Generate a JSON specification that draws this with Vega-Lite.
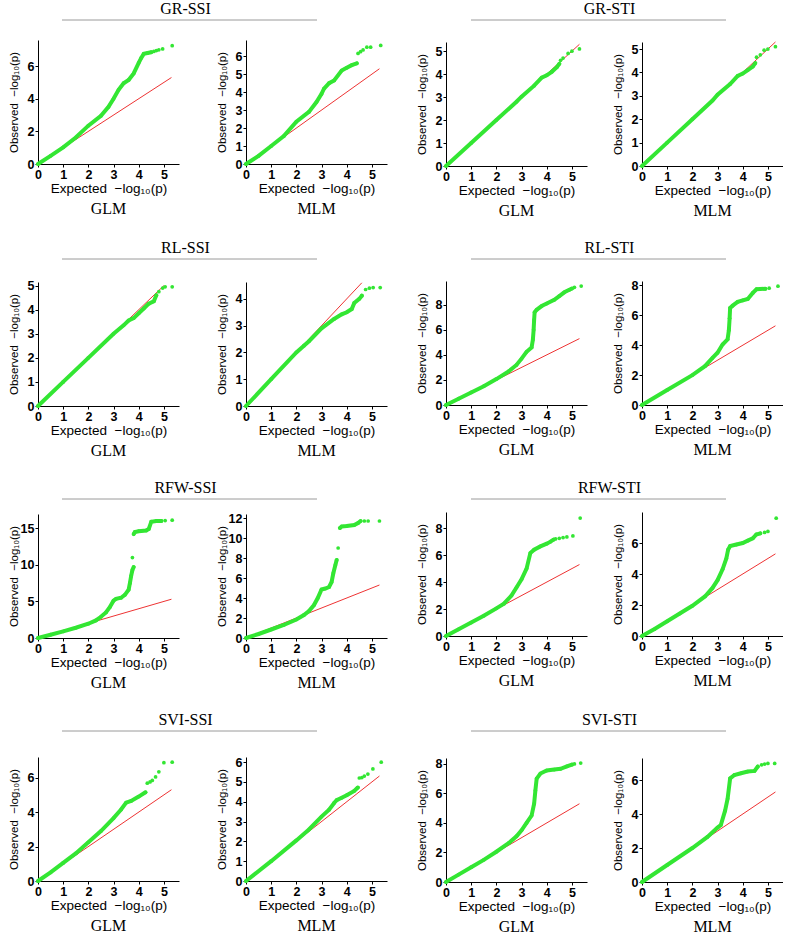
{
"$schema":"https://vega.github.io/schema/vega-lite/v6.json",
"padding":{"left":8,"top":1,"right":0,"bottom":0},
"config":{
 "view":{"stroke":null},
 "font":"Liberation Sans",
 "axis":{"domainColor":"#000","tickColor":"#000","grid":false,"labelFont":"Liberation Sans","labelFontWeight":"bold","labelFontSize":12.5,"labelColor":"#000","titleFont":"Liberation Sans","titleFontWeight":"normal","titleColor":"#000","tickSize":3,"labelPadding":1,"domainWidth":1,"labelFlush":false,"labelBound":false,"labelOverlap":false},
 "axisX":{"titleFontSize":13.5,"titlePadding":1},
 "axisY":{"titleFontSize":11.5,"minExtent":18,"maxExtent":18,"titlePadding":1},
 "title":{"font":"Liberation Serif","fontSize":16,"fontWeight":"normal","color":"#000"}
},
"datasets":{"qq":[
{"p":"A1","s":-1,"x":0,"y":0},{"p":"A1","s":-1,"x":5.3,"y":5.3},
{"p":"A1","s":0,"x":0,"y":0},{"p":"A1","s":0,"x":0.5,"y":0.5},{"p":"A1","s":0,"x":1,"y":1.02},{"p":"A1","s":0,"x":1.5,"y":1.62},{"p":"A1","s":0,"x":2,"y":2.35},{"p":"A1","s":0,"x":2.5,"y":2.95},{"p":"A1","s":0,"x":2.8,"y":3.5},{"p":"A1","s":0,"x":3,"y":4.0},{"p":"A1","s":0,"x":3.2,"y":4.55},{"p":"A1","s":0,"x":3.4,"y":4.95},{"p":"A1","s":0,"x":3.6,"y":5.15},{"p":"A1","s":0,"x":3.8,"y":5.55},{"p":"A1","s":0,"x":4.0,"y":6.2},{"p":"A1","s":0,"x":4.1,"y":6.5},{"p":"A1","s":0,"x":4.2,"y":6.75},{"p":"A1","s":0,"x":4.35,"y":6.8},{"p":"A1","s":0,"x":4.5,"y":6.85},
{"p":"A1","s":9,"x":4.6,"y":6.9},{"p":"A1","s":9,"x":4.7,"y":6.95},{"p":"A1","s":9,"x":4.8,"y":7.0},{"p":"A1","s":9,"x":4.95,"y":7.05},{"p":"A1","s":9,"x":5.33,"y":7.25},
{"p":"A2","s":-1,"x":0,"y":0},{"p":"A2","s":-1,"x":5.3,"y":5.3},
{"p":"A2","s":0,"x":0,"y":0},{"p":"A2","s":0,"x":0.5,"y":0.45},{"p":"A2","s":0,"x":1,"y":1.0},{"p":"A2","s":0,"x":1.5,"y":1.55},{"p":"A2","s":0,"x":2,"y":2.35},{"p":"A2","s":0,"x":2.5,"y":2.9},{"p":"A2","s":0,"x":2.8,"y":3.45},{"p":"A2","s":0,"x":3,"y":3.9},{"p":"A2","s":0,"x":3.1,"y":4.2},{"p":"A2","s":0,"x":3.3,"y":4.5},{"p":"A2","s":0,"x":3.5,"y":4.65},{"p":"A2","s":0,"x":3.8,"y":5.2},{"p":"A2","s":0,"x":4.0,"y":5.35},{"p":"A2","s":0,"x":4.2,"y":5.5},{"p":"A2","s":0,"x":4.4,"y":5.6},
{"p":"A2","s":9,"x":4.45,"y":6.15},{"p":"A2","s":9,"x":4.55,"y":6.25},{"p":"A2","s":9,"x":4.65,"y":6.35},{"p":"A2","s":9,"x":4.8,"y":6.5},{"p":"A2","s":9,"x":4.95,"y":6.5},{"p":"A2","s":9,"x":5.35,"y":6.6},
{"p":"B1","s":-1,"x":0,"y":0},{"p":"B1","s":-1,"x":5.3,"y":5.3},
{"p":"B1","s":0,"x":0,"y":0},{"p":"B1","s":0,"x":1,"y":1.0},{"p":"B1","s":0,"x":2,"y":2.0},{"p":"B1","s":0,"x":2.8,"y":2.8},{"p":"B1","s":0,"x":3.0,"y":3.02},{"p":"B1","s":0,"x":3.5,"y":3.5},{"p":"B1","s":0,"x":3.8,"y":3.85},{"p":"B1","s":0,"x":4.0,"y":3.95},{"p":"B1","s":0,"x":4.2,"y":4.1},{"p":"B1","s":0,"x":4.4,"y":4.3},{"p":"B1","s":0,"x":4.5,"y":4.45},
{"p":"B1","s":9,"x":4.55,"y":4.6},{"p":"B1","s":9,"x":4.65,"y":4.7},{"p":"B1","s":9,"x":4.85,"y":4.9},{"p":"B1","s":9,"x":5.0,"y":5.0},{"p":"B1","s":9,"x":5.3,"y":5.1},
{"p":"B2","s":-1,"x":0,"y":0},{"p":"B2","s":-1,"x":5.3,"y":5.3},
{"p":"B2","s":0,"x":0,"y":0},{"p":"B2","s":0,"x":1,"y":1.0},{"p":"B2","s":0,"x":2,"y":2.0},{"p":"B2","s":0,"x":2.8,"y":2.8},{"p":"B2","s":0,"x":3.0,"y":3.05},{"p":"B2","s":0,"x":3.5,"y":3.5},{"p":"B2","s":0,"x":3.8,"y":3.85},{"p":"B2","s":0,"x":4.0,"y":3.95},{"p":"B2","s":0,"x":4.2,"y":4.1},{"p":"B2","s":0,"x":4.4,"y":4.25},{"p":"B2","s":0,"x":4.5,"y":4.4},
{"p":"B2","s":9,"x":4.55,"y":4.65},{"p":"B2","s":9,"x":4.7,"y":4.75},{"p":"B2","s":9,"x":4.85,"y":4.95},{"p":"B2","s":9,"x":5.0,"y":5.0},{"p":"B2","s":9,"x":5.3,"y":5.1},
{"p":"C1","s":-1,"x":0,"y":0},{"p":"C1","s":-1,"x":5.0,"y":5.0},
{"p":"C1","s":0,"x":0,"y":0},{"p":"C1","s":0,"x":1,"y":1.0},{"p":"C1","s":0,"x":2,"y":2.0},{"p":"C1","s":0,"x":3,"y":3.0},{"p":"C1","s":0,"x":3.4,"y":3.35},{"p":"C1","s":0,"x":3.6,"y":3.55},{"p":"C1","s":0,"x":3.8,"y":3.65},{"p":"C1","s":0,"x":4.0,"y":3.85},{"p":"C1","s":0,"x":4.2,"y":4.05},{"p":"C1","s":0,"x":4.4,"y":4.25},{"p":"C1","s":0,"x":4.6,"y":4.35},{"p":"C1","s":0,"x":4.7,"y":4.6},
{"p":"C1","s":9,"x":4.8,"y":4.75},{"p":"C1","s":9,"x":4.95,"y":4.9},{"p":"C1","s":9,"x":5.05,"y":4.95},{"p":"C1","s":9,"x":5.33,"y":4.95},
{"p":"C2","s":-1,"x":0,"y":0},{"p":"C2","s":-1,"x":4.6,"y":4.6},
{"p":"C2","s":0,"x":0,"y":0},{"p":"C2","s":0,"x":1,"y":1.0},{"p":"C2","s":0,"x":2,"y":2.0},{"p":"C2","s":0,"x":2.3,"y":2.25},{"p":"C2","s":0,"x":2.5,"y":2.42},{"p":"C2","s":0,"x":3,"y":2.9},{"p":"C2","s":0,"x":3.5,"y":3.25},{"p":"C2","s":0,"x":3.8,"y":3.42},{"p":"C2","s":0,"x":4.0,"y":3.5},{"p":"C2","s":0,"x":4.2,"y":3.62},{"p":"C2","s":0,"x":4.3,"y":3.85},{"p":"C2","s":0,"x":4.5,"y":4.0},{"p":"C2","s":0,"x":4.6,"y":4.12},
{"p":"C2","s":9,"x":4.75,"y":4.35},{"p":"C2","s":9,"x":4.9,"y":4.4},{"p":"C2","s":9,"x":5.05,"y":4.42},{"p":"C2","s":9,"x":5.33,"y":4.42},
{"p":"D1","s":-1,"x":0,"y":0},{"p":"D1","s":-1,"x":5.3,"y":5.3},
{"p":"D1","s":0,"x":0,"y":0},{"p":"D1","s":0,"x":0.5,"y":0.5},{"p":"D1","s":0,"x":1,"y":1.0},{"p":"D1","s":0,"x":1.5,"y":1.5},{"p":"D1","s":0,"x":2,"y":2.07},{"p":"D1","s":0,"x":2.5,"y":2.7},{"p":"D1","s":0,"x":2.8,"y":3.2},{"p":"D1","s":0,"x":3,"y":3.7},{"p":"D1","s":0,"x":3.2,"y":4.25},{"p":"D1","s":0,"x":3.4,"y":4.6},{"p":"D1","s":0,"x":3.45,"y":5.2},{"p":"D1","s":0,"x":3.48,"y":6.0},{"p":"D1","s":0,"x":3.5,"y":6.8},{"p":"D1","s":0,"x":3.52,"y":7.4},{"p":"D1","s":0,"x":3.6,"y":7.6},{"p":"D1","s":0,"x":3.8,"y":7.9},{"p":"D1","s":0,"x":4.0,"y":8.1},{"p":"D1","s":0,"x":4.3,"y":8.4},{"p":"D1","s":0,"x":4.5,"y":8.7},{"p":"D1","s":0,"x":4.7,"y":9.0},{"p":"D1","s":0,"x":4.9,"y":9.2},{"p":"D1","s":0,"x":5.0,"y":9.3},
{"p":"D1","s":9,"x":5.1,"y":9.4},{"p":"D1","s":9,"x":5.37,"y":9.5},
{"p":"D2","s":-1,"x":0,"y":0},{"p":"D2","s":-1,"x":5.3,"y":5.3},
{"p":"D2","s":0,"x":0,"y":0},{"p":"D2","s":0,"x":1,"y":1.0},{"p":"D2","s":0,"x":2,"y":2.0},{"p":"D2","s":0,"x":2.5,"y":2.6},{"p":"D2","s":0,"x":2.8,"y":3.15},{"p":"D2","s":0,"x":3,"y":3.5},{"p":"D2","s":0,"x":3.2,"y":4.05},{"p":"D2","s":0,"x":3.4,"y":4.4},{"p":"D2","s":0,"x":3.45,"y":5.0},{"p":"D2","s":0,"x":3.48,"y":5.8},{"p":"D2","s":0,"x":3.5,"y":6.5},{"p":"D2","s":0,"x":3.6,"y":6.65},{"p":"D2","s":0,"x":3.8,"y":6.9},{"p":"D2","s":0,"x":4.0,"y":7.0},{"p":"D2","s":0,"x":4.2,"y":7.1},{"p":"D2","s":0,"x":4.4,"y":7.5},{"p":"D2","s":0,"x":4.55,"y":7.75},{"p":"D2","s":0,"x":4.9,"y":7.78},
{"p":"D2","s":9,"x":5.05,"y":7.82},{"p":"D2","s":9,"x":5.4,"y":7.95},
{"p":"E1","s":-1,"x":0,"y":0},{"p":"E1","s":-1,"x":5.3,"y":5.3},
{"p":"E1","s":0,"x":0,"y":0},{"p":"E1","s":0,"x":0.5,"y":0.45},{"p":"E1","s":0,"x":1,"y":0.9},{"p":"E1","s":0,"x":1.5,"y":1.4},{"p":"E1","s":0,"x":2,"y":1.95},{"p":"E1","s":0,"x":2.3,"y":2.4},{"p":"E1","s":0,"x":2.5,"y":2.9},{"p":"E1","s":0,"x":2.7,"y":3.5},{"p":"E1","s":0,"x":2.85,"y":4.2},{"p":"E1","s":0,"x":3.0,"y":5.1},{"p":"E1","s":0,"x":3.1,"y":5.35},{"p":"E1","s":0,"x":3.3,"y":5.5},{"p":"E1","s":0,"x":3.45,"y":5.9},{"p":"E1","s":0,"x":3.6,"y":6.6},{"p":"E1","s":0,"x":3.65,"y":7.5},{"p":"E1","s":0,"x":3.7,"y":8.5},{"p":"E1","s":0,"x":3.75,"y":9.3},{"p":"E1","s":0,"x":3.8,"y":9.7},
{"p":"E1","s":9,"x":3.75,"y":11.0},
{"p":"E1","s":1,"x":3.8,"y":14.2},{"p":"E1","s":1,"x":3.85,"y":14.5},{"p":"E1","s":1,"x":4.0,"y":14.6},{"p":"E1","s":1,"x":4.3,"y":14.7},{"p":"E1","s":1,"x":4.4,"y":14.9},{"p":"E1","s":1,"x":4.5,"y":15.9},{"p":"E1","s":1,"x":4.7,"y":16.0},{"p":"E1","s":1,"x":4.9,"y":16.0},
{"p":"E1","s":9,"x":5.05,"y":16.05},{"p":"E1","s":9,"x":5.33,"y":16.1},
{"p":"E2","s":-1,"x":0,"y":0},{"p":"E2","s":-1,"x":5.3,"y":5.3},
{"p":"E2","s":0,"x":0,"y":0},{"p":"E2","s":0,"x":0.5,"y":0.4},{"p":"E2","s":0,"x":1,"y":0.85},{"p":"E2","s":0,"x":1.5,"y":1.3},{"p":"E2","s":0,"x":2,"y":1.85},{"p":"E2","s":0,"x":2.3,"y":2.3},{"p":"E2","s":0,"x":2.5,"y":2.7},{"p":"E2","s":0,"x":2.7,"y":3.3},{"p":"E2","s":0,"x":2.85,"y":4.0},{"p":"E2","s":0,"x":3.0,"y":4.85},{"p":"E2","s":0,"x":3.15,"y":4.95},{"p":"E2","s":0,"x":3.3,"y":5.1},{"p":"E2","s":0,"x":3.4,"y":5.6},{"p":"E2","s":0,"x":3.47,"y":6.5},{"p":"E2","s":0,"x":3.55,"y":7.3},{"p":"E2","s":0,"x":3.6,"y":7.8},
{"p":"E2","s":9,"x":3.66,"y":9.0},
{"p":"E2","s":1,"x":3.73,"y":11.0},{"p":"E2","s":1,"x":3.8,"y":11.15},{"p":"E2","s":1,"x":4.0,"y":11.2},{"p":"E2","s":1,"x":4.3,"y":11.3},{"p":"E2","s":1,"x":4.45,"y":11.5},{"p":"E2","s":1,"x":4.55,"y":11.7},
{"p":"E2","s":9,"x":4.7,"y":11.7},{"p":"E2","s":9,"x":4.85,"y":11.7},{"p":"E2","s":9,"x":5.3,"y":11.7},
{"p":"F1","s":-1,"x":0,"y":0},{"p":"F1","s":-1,"x":5.3,"y":5.3},
{"p":"F1","s":0,"x":0,"y":0},{"p":"F1","s":0,"x":0.5,"y":0.5},{"p":"F1","s":0,"x":1,"y":1.0},{"p":"F1","s":0,"x":1.5,"y":1.5},{"p":"F1","s":0,"x":2,"y":2.05},{"p":"F1","s":0,"x":2.3,"y":2.4},{"p":"F1","s":0,"x":2.6,"y":3.0},{"p":"F1","s":0,"x":2.8,"y":3.6},{"p":"F1","s":0,"x":3.0,"y":4.2},{"p":"F1","s":0,"x":3.2,"y":5.0},{"p":"F1","s":0,"x":3.35,"y":6.15},{"p":"F1","s":0,"x":3.5,"y":6.4},{"p":"F1","s":0,"x":3.75,"y":6.65},{"p":"F1","s":0,"x":4.0,"y":6.85},{"p":"F1","s":0,"x":4.15,"y":7.0},{"p":"F1","s":0,"x":4.27,"y":7.15},
{"p":"F1","s":9,"x":4.35,"y":7.2},{"p":"F1","s":9,"x":4.5,"y":7.25},{"p":"F1","s":9,"x":4.65,"y":7.3},{"p":"F1","s":9,"x":4.8,"y":7.35},{"p":"F1","s":9,"x":5.04,"y":7.42},{"p":"F1","s":9,"x":5.33,"y":8.75},
{"p":"F2","s":-1,"x":0,"y":0},{"p":"F2","s":-1,"x":5.3,"y":5.3},
{"p":"F2","s":0,"x":0,"y":0},{"p":"F2","s":0,"x":0.5,"y":0.45},{"p":"F2","s":0,"x":1,"y":0.95},{"p":"F2","s":0,"x":1.5,"y":1.45},{"p":"F2","s":0,"x":2,"y":1.95},{"p":"F2","s":0,"x":2.5,"y":2.55},{"p":"F2","s":0,"x":2.8,"y":3.1},{"p":"F2","s":0,"x":3.0,"y":3.6},{"p":"F2","s":0,"x":3.2,"y":4.3},{"p":"F2","s":0,"x":3.35,"y":5.0},{"p":"F2","s":0,"x":3.42,"y":5.57},{"p":"F2","s":0,"x":3.5,"y":5.8},{"p":"F2","s":0,"x":3.75,"y":5.9},{"p":"F2","s":0,"x":4.0,"y":6.0},{"p":"F2","s":0,"x":4.2,"y":6.15},{"p":"F2","s":0,"x":4.4,"y":6.3},{"p":"F2","s":0,"x":4.54,"y":6.55},{"p":"F2","s":0,"x":4.7,"y":6.62},
{"p":"F2","s":9,"x":4.87,"y":6.68},{"p":"F2","s":9,"x":5.0,"y":6.75},{"p":"F2","s":9,"x":5.33,"y":7.6},
{"p":"G1","s":-1,"x":0,"y":0},{"p":"G1","s":-1,"x":5.3,"y":5.3},
{"p":"G1","s":0,"x":0,"y":0},{"p":"G1","s":0,"x":0.5,"y":0.5},{"p":"G1","s":0,"x":1,"y":1.05},{"p":"G1","s":0,"x":1.5,"y":1.6},{"p":"G1","s":0,"x":2,"y":2.25},{"p":"G1","s":0,"x":2.5,"y":2.9},{"p":"G1","s":0,"x":3,"y":3.65},{"p":"G1","s":0,"x":3.3,"y":4.15},{"p":"G1","s":0,"x":3.5,"y":4.55},{"p":"G1","s":0,"x":3.7,"y":4.65},{"p":"G1","s":0,"x":4.0,"y":4.9},{"p":"G1","s":0,"x":4.27,"y":5.15},
{"p":"G1","s":9,"x":4.34,"y":5.68},{"p":"G1","s":9,"x":4.45,"y":5.75},{"p":"G1","s":9,"x":4.54,"y":5.84},{"p":"G1","s":9,"x":4.67,"y":6.04},{"p":"G1","s":9,"x":4.8,"y":6.34},{"p":"G1","s":9,"x":5.0,"y":6.87},{"p":"G1","s":9,"x":5.33,"y":6.9},
{"p":"G2","s":-1,"x":0,"y":0},{"p":"G2","s":-1,"x":5.3,"y":5.3},
{"p":"G2","s":0,"x":0,"y":0},{"p":"G2","s":0,"x":1,"y":1.0},{"p":"G2","s":0,"x":2,"y":2.05},{"p":"G2","s":0,"x":2.5,"y":2.6},{"p":"G2","s":0,"x":3,"y":3.25},{"p":"G2","s":0,"x":3.3,"y":3.6},{"p":"G2","s":0,"x":3.5,"y":3.94},{"p":"G2","s":0,"x":3.6,"y":4.08},{"p":"G2","s":0,"x":3.8,"y":4.2},{"p":"G2","s":0,"x":4.0,"y":4.33},{"p":"G2","s":0,"x":4.3,"y":4.55},{"p":"G2","s":0,"x":4.44,"y":4.72},
{"p":"G2","s":9,"x":4.5,"y":5.2},{"p":"G2","s":9,"x":4.6,"y":5.22},{"p":"G2","s":9,"x":4.7,"y":5.3},{"p":"G2","s":9,"x":4.84,"y":5.4},{"p":"G2","s":9,"x":5.04,"y":5.66},{"p":"G2","s":9,"x":5.37,"y":6.0},
{"p":"H1","s":-1,"x":0,"y":0},{"p":"H1","s":-1,"x":5.3,"y":5.3},
{"p":"H1","s":0,"x":0,"y":0},{"p":"H1","s":0,"x":0.5,"y":0.5},{"p":"H1","s":0,"x":1,"y":1.0},{"p":"H1","s":0,"x":1.5,"y":1.5},{"p":"H1","s":0,"x":2,"y":2.05},{"p":"H1","s":0,"x":2.5,"y":2.65},{"p":"H1","s":0,"x":2.8,"y":3.1},{"p":"H1","s":0,"x":3.0,"y":3.5},{"p":"H1","s":0,"x":3.2,"y":4.0},{"p":"H1","s":0,"x":3.4,"y":4.5},{"p":"H1","s":0,"x":3.5,"y":5.3},{"p":"H1","s":0,"x":3.55,"y":6.2},{"p":"H1","s":0,"x":3.6,"y":7.0},{"p":"H1","s":0,"x":3.75,"y":7.35},{"p":"H1","s":0,"x":4.0,"y":7.55},{"p":"H1","s":0,"x":4.3,"y":7.62},{"p":"H1","s":0,"x":4.55,"y":7.67},{"p":"H1","s":0,"x":4.8,"y":7.83},{"p":"H1","s":0,"x":5.0,"y":7.95},
{"p":"H1","s":9,"x":5.1,"y":8.0},{"p":"H1","s":9,"x":5.35,"y":8.06},
{"p":"H2","s":-1,"x":0,"y":0},{"p":"H2","s":-1,"x":5.3,"y":5.3},
{"p":"H2","s":0,"x":0,"y":0},{"p":"H2","s":0,"x":1,"y":1.0},{"p":"H2","s":0,"x":2,"y":2.0},{"p":"H2","s":0,"x":2.6,"y":2.65},{"p":"H2","s":0,"x":3.0,"y":3.2},{"p":"H2","s":0,"x":3.13,"y":3.35},{"p":"H2","s":0,"x":3.3,"y":4.2},{"p":"H2","s":0,"x":3.4,"y":4.9},{"p":"H2","s":0,"x":3.5,"y":6.1},{"p":"H2","s":0,"x":3.67,"y":6.3},{"p":"H2","s":0,"x":3.93,"y":6.4},{"p":"H2","s":0,"x":4.2,"y":6.5},{"p":"H2","s":0,"x":4.47,"y":6.54},{"p":"H2","s":0,"x":4.6,"y":6.8},
{"p":"H2","s":9,"x":4.75,"y":6.9},{"p":"H2","s":9,"x":4.87,"y":6.94},{"p":"H2","s":9,"x":5.0,"y":6.98},{"p":"H2","s":9,"x":5.27,"y":6.98}
],
"bar":[{"a":0,"b":255,"c":0}]},
"data":{"name":"qq"},
"spacing":21,
"vconcat":[
{"hconcat":[
 {"title":{"text":"GR-SSI","anchor":"middle","offset":2,"dx":-12},"spacing":19,"center":true,"vconcat":[
  {"width":301,"height":1,"data":{"name":"bar"},"mark":{"type":"rule","color":"#9a9a9a","strokeWidth":1},"encoding":{"x":{"field":"a","type":"quantitative","scale":{"domain":[0,301]},"axis":null},"x2":{"field":"b"},"y":{"field":"c","type":"quantitative","scale":{"domain":[0,1]},"axis":null}}},
  {"spacing":37,"hconcat":[
   {"width":141,"height":124,"title":{"text":"GLM","orient":"bottom","offset":6},
    "encoding":{"x":{"field":"x","type":"quantitative","scale":{"domain":[0,5.6]},"axis":{"values":[0,1,2,3,4,5],"title":"Expected \u00a0\u2212log\u2081\u2080(p)"}},"y":{"field":"y","type":"quantitative","scale":{"domain":[0,7.6]},"axis":{"values":[0,2,4,6],"title":"Observed \u00a0\u2212log\u2081\u2080(p)"}}},
    "layer":[
     {"transform":[{"filter":"datum.p=='A1'&&datum.s<0"}],"mark":{"type":"line","color":"#ee3333","strokeWidth":1},"encoding":{}},
     {"transform":[{"filter":"datum.p=='A1'&&datum.s>=0&&datum.s<9"}],"mark":{"type":"line","color":"#33e633","strokeWidth":4,"strokeCap":"round"},"encoding":{"detail":{"field":"s"}}},
     {"transform":[{"filter":"datum.p=='A1'&&datum.s>=0"}],"mark":{"type":"circle","color":"#33e633","size":14,"opacity":1},"encoding":{}}]},
   {"width":141,"height":124,"title":{"text":"MLM","orient":"bottom","offset":6},
    "encoding":{"x":{"field":"x","type":"quantitative","scale":{"domain":[0,5.6]},"axis":{"values":[0,1,2,3,4,5],"title":"Expected \u00a0\u2212log\u2081\u2080(p)"}},"y":{"field":"y","type":"quantitative","scale":{"domain":[0,6.9]},"axis":{"values":[0,1,2,3,4,5,6],"title":"Observed \u00a0\u2212log\u2081\u2080(p)"}}},
    "layer":[
     {"transform":[{"filter":"datum.p=='A2'&&datum.s<0"}],"mark":{"type":"line","color":"#ee3333","strokeWidth":1},"encoding":{}},
     {"transform":[{"filter":"datum.p=='A2'&&datum.s>=0&&datum.s<9"}],"mark":{"type":"line","color":"#33e633","strokeWidth":4,"strokeCap":"round"},"encoding":{"detail":{"field":"s"}}},
     {"transform":[{"filter":"datum.p=='A2'&&datum.s>=0"}],"mark":{"type":"circle","color":"#33e633","size":14,"opacity":1},"encoding":{}}]}
  ]}
 ]},
 {"title":{"text":"GR-STI","anchor":"middle","offset":2,"dx":10},"spacing":19,"center":true,"vconcat":[
  {"width":287,"height":1,"data":{"name":"bar"},"mark":{"type":"rule","color":"#9a9a9a","strokeWidth":1},"encoding":{"x":{"field":"a","type":"quantitative","scale":{"domain":[0,287]},"axis":null},"x2":{"field":"b"},"y":{"field":"c","type":"quantitative","scale":{"domain":[0,1]},"axis":null}}},
  {"spacing":25,"hconcat":[
   {"width":141,"height":124,"title":{"text":"GLM","orient":"bottom","offset":6},
    "encoding":{"x":{"field":"x","type":"quantitative","scale":{"domain":[0,5.6]},"axis":{"values":[0,1,2,3,4,5],"title":"Expected \u00a0\u2212log\u2081\u2080(p)"}},"y":{"field":"y","type":"quantitative","scale":{"domain":[0,5.4]},"axis":{"values":[0,1,2,3,4,5],"title":"Observed \u00a0\u2212log\u2081\u2080(p)"}}},
    "layer":[
     {"transform":[{"filter":"datum.p=='B1'&&datum.s<0"}],"mark":{"type":"line","color":"#ee3333","strokeWidth":1},"encoding":{}},
     {"transform":[{"filter":"datum.p=='B1'&&datum.s>=0&&datum.s<9"}],"mark":{"type":"line","color":"#33e633","strokeWidth":4,"strokeCap":"round"},"encoding":{"detail":{"field":"s"}}},
     {"transform":[{"filter":"datum.p=='B1'&&datum.s>=0"}],"mark":{"type":"circle","color":"#33e633","size":14,"opacity":1},"encoding":{}}]},
   {"width":141,"height":124,"title":{"text":"MLM","orient":"bottom","offset":6},
    "encoding":{"x":{"field":"x","type":"quantitative","scale":{"domain":[0,5.6]},"axis":{"values":[0,1,2,3,4,5],"title":"Expected \u00a0\u2212log\u2081\u2080(p)"}},"y":{"field":"y","type":"quantitative","scale":{"domain":[0,5.3]},"axis":{"values":[0,1,2,3,4,5],"title":"Observed \u00a0\u2212log\u2081\u2080(p)"}}},
    "layer":[
     {"transform":[{"filter":"datum.p=='B2'&&datum.s<0"}],"mark":{"type":"line","color":"#ee3333","strokeWidth":1},"encoding":{}},
     {"transform":[{"filter":"datum.p=='B2'&&datum.s>=0&&datum.s<9"}],"mark":{"type":"line","color":"#33e633","strokeWidth":4,"strokeCap":"round"},"encoding":{"detail":{"field":"s"}}},
     {"transform":[{"filter":"datum.p=='B2'&&datum.s>=0"}],"mark":{"type":"circle","color":"#33e633","size":14,"opacity":1},"encoding":{}}]}
  ]}
 ]}
],"spacing":29},
{"hconcat":[
 {"title":{"text":"RL-SSI","anchor":"middle","offset":2,"dx":-12},"spacing":19,"center":true,"vconcat":[
  {"width":301,"height":1,"data":{"name":"bar"},"mark":{"type":"rule","color":"#9a9a9a","strokeWidth":1},"encoding":{"x":{"field":"a","type":"quantitative","scale":{"domain":[0,301]},"axis":null},"x2":{"field":"b"},"y":{"field":"c","type":"quantitative","scale":{"domain":[0,1]},"axis":null}}},
  {"spacing":37,"hconcat":[
   {"width":141,"height":124,"title":{"text":"GLM","orient":"bottom","offset":6},
    "encoding":{"x":{"field":"x","type":"quantitative","scale":{"domain":[0,5.6]},"axis":{"values":[0,1,2,3,4,5],"title":"Expected \u00a0\u2212log\u2081\u2080(p)"}},"y":{"field":"y","type":"quantitative","scale":{"domain":[0,5.15]},"axis":{"values":[0,1,2,3,4,5],"title":"Observed \u00a0\u2212log\u2081\u2080(p)"}}},
    "layer":[
     {"transform":[{"filter":"datum.p=='C1'&&datum.s<0"}],"mark":{"type":"line","color":"#ee3333","strokeWidth":1},"encoding":{}},
     {"transform":[{"filter":"datum.p=='C1'&&datum.s>=0&&datum.s<9"}],"mark":{"type":"line","color":"#33e633","strokeWidth":4,"strokeCap":"round"},"encoding":{"detail":{"field":"s"}}},
     {"transform":[{"filter":"datum.p=='C1'&&datum.s>=0"}],"mark":{"type":"circle","color":"#33e633","size":14,"opacity":1},"encoding":{}}]},
   {"width":141,"height":124,"title":{"text":"MLM","orient":"bottom","offset":6},
    "encoding":{"x":{"field":"x","type":"quantitative","scale":{"domain":[0,5.6]},"axis":{"values":[0,1,2,3,4,5],"title":"Expected \u00a0\u2212log\u2081\u2080(p)"}},"y":{"field":"y","type":"quantitative","scale":{"domain":[0,4.63]},"axis":{"values":[0,1,2,3,4],"title":"Observed \u00a0\u2212log\u2081\u2080(p)"}}},
    "layer":[
     {"transform":[{"filter":"datum.p=='C2'&&datum.s<0"}],"mark":{"type":"line","color":"#ee3333","strokeWidth":1},"encoding":{}},
     {"transform":[{"filter":"datum.p=='C2'&&datum.s>=0&&datum.s<9"}],"mark":{"type":"line","color":"#33e633","strokeWidth":4,"strokeCap":"round"},"encoding":{"detail":{"field":"s"}}},
     {"transform":[{"filter":"datum.p=='C2'&&datum.s>=0"}],"mark":{"type":"circle","color":"#33e633","size":14,"opacity":1},"encoding":{}}]}
  ]}
 ]},
 {"title":{"text":"RL-STI","anchor":"middle","offset":2,"dx":10},"spacing":19,"center":true,"vconcat":[
  {"width":287,"height":1,"data":{"name":"bar"},"mark":{"type":"rule","color":"#9a9a9a","strokeWidth":1},"encoding":{"x":{"field":"a","type":"quantitative","scale":{"domain":[0,287]},"axis":null},"x2":{"field":"b"},"y":{"field":"c","type":"quantitative","scale":{"domain":[0,1]},"axis":null}}},
  {"spacing":25,"hconcat":[
   {"width":141,"height":124,"title":{"text":"GLM","orient":"bottom","offset":6},
    "encoding":{"x":{"field":"x","type":"quantitative","scale":{"domain":[0,5.6]},"axis":{"values":[0,1,2,3,4,5],"title":"Expected \u00a0\u2212log\u2081\u2080(p)"}},"y":{"field":"y","type":"quantitative","scale":{"domain":[0,9.9]},"axis":{"values":[0,2,4,6,8],"title":"Observed \u00a0\u2212log\u2081\u2080(p)"}}},
    "layer":[
     {"transform":[{"filter":"datum.p=='D1'&&datum.s<0"}],"mark":{"type":"line","color":"#ee3333","strokeWidth":1},"encoding":{}},
     {"transform":[{"filter":"datum.p=='D1'&&datum.s>=0&&datum.s<9"}],"mark":{"type":"line","color":"#33e633","strokeWidth":4,"strokeCap":"round"},"encoding":{"detail":{"field":"s"}}},
     {"transform":[{"filter":"datum.p=='D1'&&datum.s>=0"}],"mark":{"type":"circle","color":"#33e633","size":14,"opacity":1},"encoding":{}}]},
   {"width":141,"height":124,"title":{"text":"MLM","orient":"bottom","offset":6},
    "encoding":{"x":{"field":"x","type":"quantitative","scale":{"domain":[0,5.6]},"axis":{"values":[0,1,2,3,4,5],"title":"Expected \u00a0\u2212log\u2081\u2080(p)"}},"y":{"field":"y","type":"quantitative","scale":{"domain":[0,8.3]},"axis":{"values":[0,2,4,6,8],"title":"Observed \u00a0\u2212log\u2081\u2080(p)"}}},
    "layer":[
     {"transform":[{"filter":"datum.p=='D2'&&datum.s<0"}],"mark":{"type":"line","color":"#ee3333","strokeWidth":1},"encoding":{}},
     {"transform":[{"filter":"datum.p=='D2'&&datum.s>=0&&datum.s<9"}],"mark":{"type":"line","color":"#33e633","strokeWidth":4,"strokeCap":"round"},"encoding":{"detail":{"field":"s"}}},
     {"transform":[{"filter":"datum.p=='D2'&&datum.s>=0"}],"mark":{"type":"circle","color":"#33e633","size":14,"opacity":1},"encoding":{}}]}
  ]}
 ]}
],"spacing":29},
{"hconcat":[
 {"title":{"text":"RFW-SSI","anchor":"middle","offset":2,"dx":-12},"spacing":12,"center":true,"vconcat":[
  {"width":301,"height":1,"data":{"name":"bar"},"mark":{"type":"rule","color":"#9a9a9a","strokeWidth":1},"encoding":{"x":{"field":"a","type":"quantitative","scale":{"domain":[0,301]},"axis":null},"x2":{"field":"b"},"y":{"field":"c","type":"quantitative","scale":{"domain":[0,1]},"axis":null}}},
  {"spacing":37,"hconcat":[
   {"width":141,"height":124,"title":{"text":"GLM","orient":"bottom","offset":6},
    "encoding":{"x":{"field":"x","type":"quantitative","scale":{"domain":[0,5.6]},"axis":{"values":[0,1,2,3,4,5],"title":"Expected \u00a0\u2212log\u2081\u2080(p)"}},"y":{"field":"y","type":"quantitative","scale":{"domain":[0,16.95]},"axis":{"values":[0,5,10,15],"title":"Observed \u00a0\u2212log\u2081\u2080(p)"}}},
    "layer":[
     {"transform":[{"filter":"datum.p=='E1'&&datum.s<0"}],"mark":{"type":"line","color":"#ee3333","strokeWidth":1},"encoding":{}},
     {"transform":[{"filter":"datum.p=='E1'&&datum.s>=0&&datum.s<9"}],"mark":{"type":"line","color":"#33e633","strokeWidth":4,"strokeCap":"round"},"encoding":{"detail":{"field":"s"}}},
     {"transform":[{"filter":"datum.p=='E1'&&datum.s>=0"}],"mark":{"type":"circle","color":"#33e633","size":14,"opacity":1},"encoding":{}}]},
   {"width":141,"height":124,"title":{"text":"MLM","orient":"bottom","offset":6},
    "encoding":{"x":{"field":"x","type":"quantitative","scale":{"domain":[0,5.6]},"axis":{"values":[0,1,2,3,4,5],"title":"Expected \u00a0\u2212log\u2081\u2080(p)"}},"y":{"field":"y","type":"quantitative","scale":{"domain":[0,12.4]},"axis":{"values":[0,2,4,6,8,10,12],"title":"Observed \u00a0\u2212log\u2081\u2080(p)"}}},
    "layer":[
     {"transform":[{"filter":"datum.p=='E2'&&datum.s<0"}],"mark":{"type":"line","color":"#ee3333","strokeWidth":1},"encoding":{}},
     {"transform":[{"filter":"datum.p=='E2'&&datum.s>=0&&datum.s<9"}],"mark":{"type":"line","color":"#33e633","strokeWidth":4,"strokeCap":"round"},"encoding":{"detail":{"field":"s"}}},
     {"transform":[{"filter":"datum.p=='E2'&&datum.s>=0"}],"mark":{"type":"circle","color":"#33e633","size":14,"opacity":1},"encoding":{}}]}
  ]}
 ]},
 {"title":{"text":"RFW-STI","anchor":"middle","offset":2,"dx":10},"spacing":12,"center":true,"vconcat":[
  {"width":287,"height":1,"data":{"name":"bar"},"mark":{"type":"rule","color":"#9a9a9a","strokeWidth":1},"encoding":{"x":{"field":"a","type":"quantitative","scale":{"domain":[0,287]},"axis":null},"x2":{"field":"b"},"y":{"field":"c","type":"quantitative","scale":{"domain":[0,1]},"axis":null}}},
  {"spacing":25,"hconcat":[
   {"width":141,"height":124,"title":{"text":"GLM","orient":"bottom","offset":6},
    "encoding":{"x":{"field":"x","type":"quantitative","scale":{"domain":[0,5.6]},"axis":{"values":[0,1,2,3,4,5],"title":"Expected \u00a0\u2212log\u2081\u2080(p)"}},"y":{"field":"y","type":"quantitative","scale":{"domain":[0,9.2]},"axis":{"values":[0,2,4,6,8],"title":"Observed \u00a0\u2212log\u2081\u2080(p)"}}},
    "layer":[
     {"transform":[{"filter":"datum.p=='F1'&&datum.s<0"}],"mark":{"type":"line","color":"#ee3333","strokeWidth":1},"encoding":{}},
     {"transform":[{"filter":"datum.p=='F1'&&datum.s>=0&&datum.s<9"}],"mark":{"type":"line","color":"#33e633","strokeWidth":4,"strokeCap":"round"},"encoding":{"detail":{"field":"s"}}},
     {"transform":[{"filter":"datum.p=='F1'&&datum.s>=0"}],"mark":{"type":"circle","color":"#33e633","size":14,"opacity":1},"encoding":{}}]},
   {"width":141,"height":124,"title":{"text":"MLM","orient":"bottom","offset":6},
    "encoding":{"x":{"field":"x","type":"quantitative","scale":{"domain":[0,5.6]},"axis":{"values":[0,1,2,3,4,5],"title":"Expected \u00a0\u2212log\u2081\u2080(p)"}},"y":{"field":"y","type":"quantitative","scale":{"domain":[0,8.0]},"axis":{"values":[0,2,4,6],"title":"Observed \u00a0\u2212log\u2081\u2080(p)"}}},
    "layer":[
     {"transform":[{"filter":"datum.p=='F2'&&datum.s<0"}],"mark":{"type":"line","color":"#ee3333","strokeWidth":1},"encoding":{}},
     {"transform":[{"filter":"datum.p=='F2'&&datum.s>=0&&datum.s<9"}],"mark":{"type":"line","color":"#33e633","strokeWidth":4,"strokeCap":"round"},"encoding":{"detail":{"field":"s"}}},
     {"transform":[{"filter":"datum.p=='F2'&&datum.s>=0"}],"mark":{"type":"circle","color":"#33e633","size":14,"opacity":1},"encoding":{}}]}
  ]}
 ]}
],"spacing":29},
{"hconcat":[
 {"title":{"text":"SVI-SSI","anchor":"middle","offset":2,"dx":-12},"spacing":24,"center":true,"vconcat":[
  {"width":301,"height":1,"data":{"name":"bar"},"mark":{"type":"rule","color":"#9a9a9a","strokeWidth":1},"encoding":{"x":{"field":"a","type":"quantitative","scale":{"domain":[0,301]},"axis":null},"x2":{"field":"b"},"y":{"field":"c","type":"quantitative","scale":{"domain":[0,1]},"axis":null}}},
  {"spacing":37,"hconcat":[
   {"width":141,"height":124,"title":{"text":"GLM","orient":"bottom","offset":6},
    "encoding":{"x":{"field":"x","type":"quantitative","scale":{"domain":[0,5.6]},"axis":{"values":[0,1,2,3,4,5],"title":"Expected \u00a0\u2212log\u2081\u2080(p)"}},"y":{"field":"y","type":"quantitative","scale":{"domain":[0,7.2]},"axis":{"values":[0,2,4,6],"title":"Observed \u00a0\u2212log\u2081\u2080(p)"}}},
    "layer":[
     {"transform":[{"filter":"datum.p=='G1'&&datum.s<0"}],"mark":{"type":"line","color":"#ee3333","strokeWidth":1},"encoding":{}},
     {"transform":[{"filter":"datum.p=='G1'&&datum.s>=0&&datum.s<9"}],"mark":{"type":"line","color":"#33e633","strokeWidth":4,"strokeCap":"round"},"encoding":{"detail":{"field":"s"}}},
     {"transform":[{"filter":"datum.p=='G1'&&datum.s>=0"}],"mark":{"type":"circle","color":"#33e633","size":14,"opacity":1},"encoding":{}}]},
   {"width":141,"height":124,"title":{"text":"MLM","orient":"bottom","offset":6},
    "encoding":{"x":{"field":"x","type":"quantitative","scale":{"domain":[0,5.6]},"axis":{"values":[0,1,2,3,4,5],"title":"Expected \u00a0\u2212log\u2081\u2080(p)"}},"y":{"field":"y","type":"quantitative","scale":{"domain":[0,6.26]},"axis":{"values":[0,1,2,3,4,5,6],"title":"Observed \u00a0\u2212log\u2081\u2080(p)"}}},
    "layer":[
     {"transform":[{"filter":"datum.p=='G2'&&datum.s<0"}],"mark":{"type":"line","color":"#ee3333","strokeWidth":1},"encoding":{}},
     {"transform":[{"filter":"datum.p=='G2'&&datum.s>=0&&datum.s<9"}],"mark":{"type":"line","color":"#33e633","strokeWidth":4,"strokeCap":"round"},"encoding":{"detail":{"field":"s"}}},
     {"transform":[{"filter":"datum.p=='G2'&&datum.s>=0"}],"mark":{"type":"circle","color":"#33e633","size":14,"opacity":1},"encoding":{}}]}
  ]}
 ]},
 {"title":{"text":"SVI-STI","anchor":"middle","offset":2,"dx":10},"spacing":24,"center":true,"vconcat":[
  {"width":287,"height":1,"data":{"name":"bar"},"mark":{"type":"rule","color":"#9a9a9a","strokeWidth":1},"encoding":{"x":{"field":"a","type":"quantitative","scale":{"domain":[0,287]},"axis":null},"x2":{"field":"b"},"y":{"field":"c","type":"quantitative","scale":{"domain":[0,1]},"axis":null}}},
  {"spacing":25,"hconcat":[
   {"width":141,"height":124,"title":{"text":"GLM","orient":"bottom","offset":6},
    "encoding":{"x":{"field":"x","type":"quantitative","scale":{"domain":[0,5.6]},"axis":{"values":[0,1,2,3,4,5],"title":"Expected \u00a0\u2212log\u2081\u2080(p)"}},"y":{"field":"y","type":"quantitative","scale":{"domain":[0,8.4]},"axis":{"values":[0,2,4,6,8],"title":"Observed \u00a0\u2212log\u2081\u2080(p)"}}},
    "layer":[
     {"transform":[{"filter":"datum.p=='H1'&&datum.s<0"}],"mark":{"type":"line","color":"#ee3333","strokeWidth":1},"encoding":{}},
     {"transform":[{"filter":"datum.p=='H1'&&datum.s>=0&&datum.s<9"}],"mark":{"type":"line","color":"#33e633","strokeWidth":4,"strokeCap":"round"},"encoding":{"detail":{"field":"s"}}},
     {"transform":[{"filter":"datum.p=='H1'&&datum.s>=0"}],"mark":{"type":"circle","color":"#33e633","size":14,"opacity":1},"encoding":{}}]},
   {"width":141,"height":124,"title":{"text":"MLM","orient":"bottom","offset":6},
    "encoding":{"x":{"field":"x","type":"quantitative","scale":{"domain":[0,5.6]},"axis":{"values":[0,1,2,3,4,5],"title":"Expected \u00a0\u2212log\u2081\u2080(p)"}},"y":{"field":"y","type":"quantitative","scale":{"domain":[0,7.3]},"axis":{"values":[0,2,4,6],"title":"Observed \u00a0\u2212log\u2081\u2080(p)"}}},
    "layer":[
     {"transform":[{"filter":"datum.p=='H2'&&datum.s<0"}],"mark":{"type":"line","color":"#ee3333","strokeWidth":1},"encoding":{}},
     {"transform":[{"filter":"datum.p=='H2'&&datum.s>=0&&datum.s<9"}],"mark":{"type":"line","color":"#33e633","strokeWidth":4,"strokeCap":"round"},"encoding":{"detail":{"field":"s"}}},
     {"transform":[{"filter":"datum.p=='H2'&&datum.s>=0"}],"mark":{"type":"circle","color":"#33e633","size":14,"opacity":1},"encoding":{}}]}
  ]}
 ]}
],"spacing":29}
]
}
